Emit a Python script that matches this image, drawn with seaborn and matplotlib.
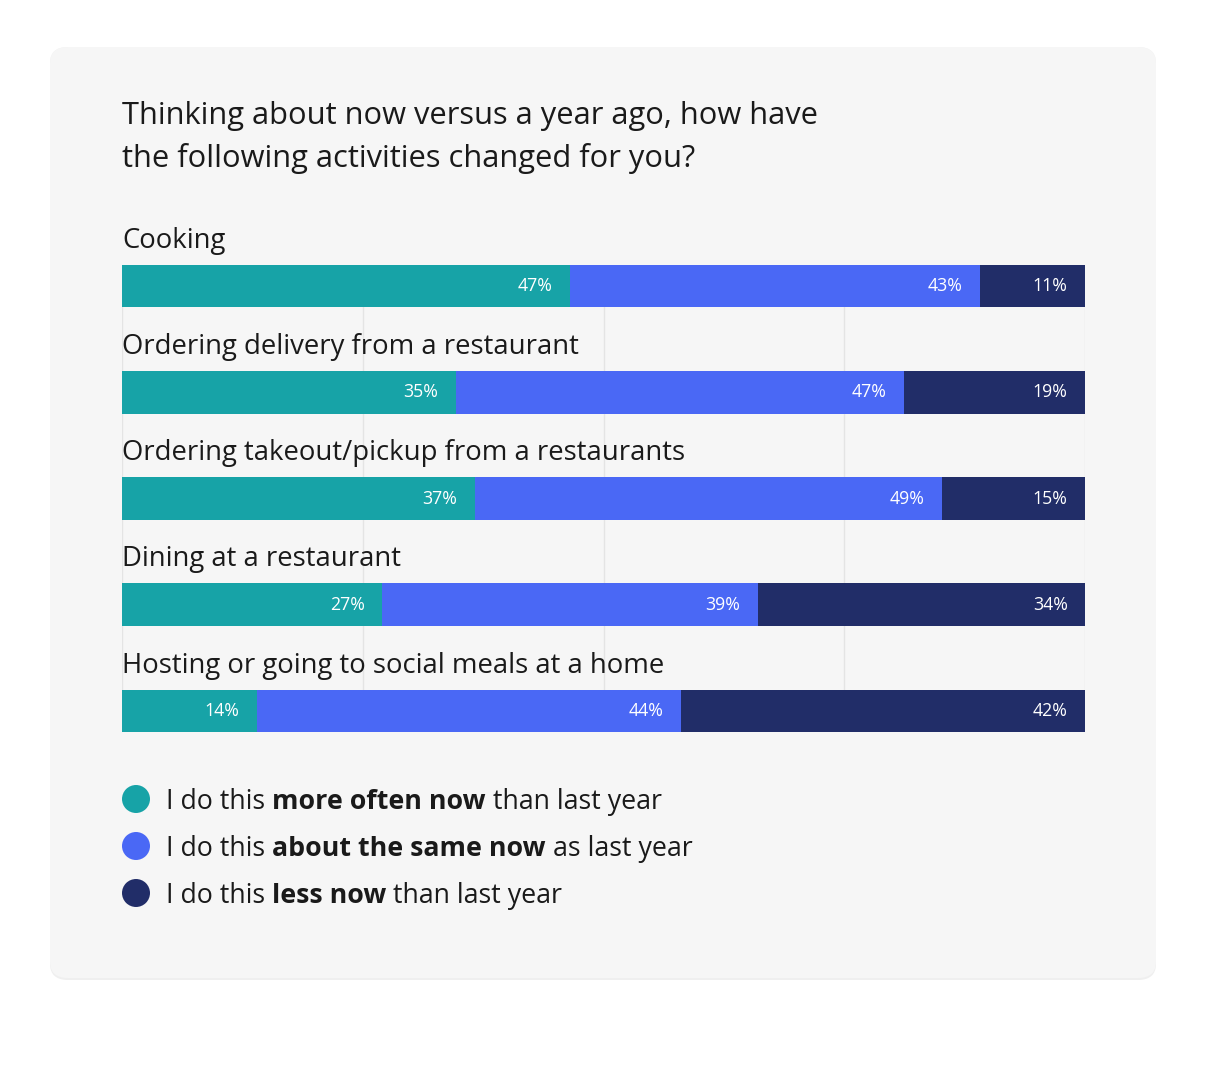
import seaborn as sns
import pandas as pd
import matplotlib.pyplot as plt
from matplotlib.patches import FancyBboxPatch, Circle

sns.set_theme(style="white")
plt.rcParams['font.family'] = ['Open Sans', 'DejaVu Sans']

# data
activities = ["Cooking",
              "Ordering delivery from a restaurant",
              "Ordering takeout/pickup from a restaurants",
              "Dining at a restaurant",
              "Hosting or going to social meals at a home"]
more_often = [47, 35, 37, 27, 14]
same = [43, 47, 49, 39, 44]
less = [11, 19, 15, 34, 42]

colors = ["#17a3a7", "#4a68f5", "#212d68"]
legend_parts = [
    ("I do this ", "more often now", " than last year"),
    ("I do this ", "about the same now", " as last year"),
    ("I do this ", "less now", " than last year"),
]

W, H = 1208, 1080
TXT = "#1a1a1a"
fig = plt.figure(figsize=(W / 100, H / 100), dpi=100, facecolor="white")

def fx(px):
    return px / W

def fy(py):
    return 1 - py / H

# card background
shadow = FancyBboxPatch((fx(50), fy(980)), fx(1106), 933 / H,
                        boxstyle="round,pad=0,rounding_size=0.015",
                        transform=fig.transFigure, facecolor="#efefef",
                        edgecolor="none", zorder=-2)
card = FancyBboxPatch((fx(50), fy(978)), fx(1106), 931 / H,
                      boxstyle="round,pad=0,rounding_size=0.015",
                      transform=fig.transFigure, facecolor="#f6f6f6",
                      edgecolor="none", zorder=-1)
fig.patches.extend([shadow, card])

df = pd.DataFrame({"activity": activities, "more": more_often,
                   "same": same, "less": less})
total = df["more"] + df["same"] + df["less"]
df["cum_more"] = df["more"] / total * 100
df["cum_same"] = (df["more"] + df["same"]) / total * 100
df["cum_less"] = 100.0

ax = fig.add_axes([fx(122), fy(732), fx(1085) - fx(122), (732 - 265) / H])
ax.set_facecolor("none")
ax.set_axisbelow(True)

# stacked bars: draw the running totals from the longest down
for col, c in zip(["cum_less", "cum_same", "cum_more"], colors[::-1]):
    sns.barplot(data=df, x=col, y="activity", color=c, orient="h",
                width=0.4, linewidth=0, saturation=1, ax=ax)

ax.set_xlim(0, 100)
ax.set_ylim(4.2, -0.2)
ax.set_xticks([0, 25, 50, 75, 100])
ax.set_xticklabels([])
ax.set_yticks([])
ax.set_xlabel("")
ax.set_ylabel("")
ax.xaxis.grid(True, color="#e4e4e4", linewidth=1)
ax.tick_params(length=0)
sns.despine(ax=ax, left=True, bottom=True)

# segment values, right aligned inside each segment
for i in range(len(activities)):
    ends = [df["cum_more"][i], df["cum_same"][i], df["cum_less"][i]]
    vals = [more_often[i], same[i], less[i]]
    for e, v in zip(ends, vals):
        ax.annotate(f"{v}%", xy=(e, i), xytext=(-12.5, 0),
                    textcoords="offset points", ha="right", va="center",
                    color="white", fontsize=12.8, fontweight=500)
    ax.text(0, i - 0.36, activities[i], ha="left", va="baseline",
            fontsize=19.8, color=TXT, clip_on=False)

# title
fig.text(fx(122), fy(124), "Thinking about now versus a year ago, how have",
         fontsize=22.2, color=TXT, va="baseline")
fig.text(fx(122), fy(167), "the following activities changed for you?",
         fontsize=22.2, color=TXT, va="baseline")

# legend with partly bold text, all pieces on one baseline
renderer = fig.canvas.get_renderer()
for k, parts in enumerate(legend_parts):
    cy = 799 + 47 * k
    fig.patches.append(Circle((136 / 100, (H - cy) / 100), 0.14,
                              transform=fig.dpi_scale_trans,
                              facecolor=colors[k], edgecolor="none"))
    x = 166
    for j, piece in enumerate(parts):
        t = fig.text(fx(x), fy(cy + 10), piece, fontsize=19.3, color=TXT,
                     va="baseline",
                     fontweight="bold" if j == 1 else "normal")
        x = t.get_window_extent(renderer).x1
        x = x  # pixels from the left already

fig.savefig("out.png", dpi=100, facecolor="white")
